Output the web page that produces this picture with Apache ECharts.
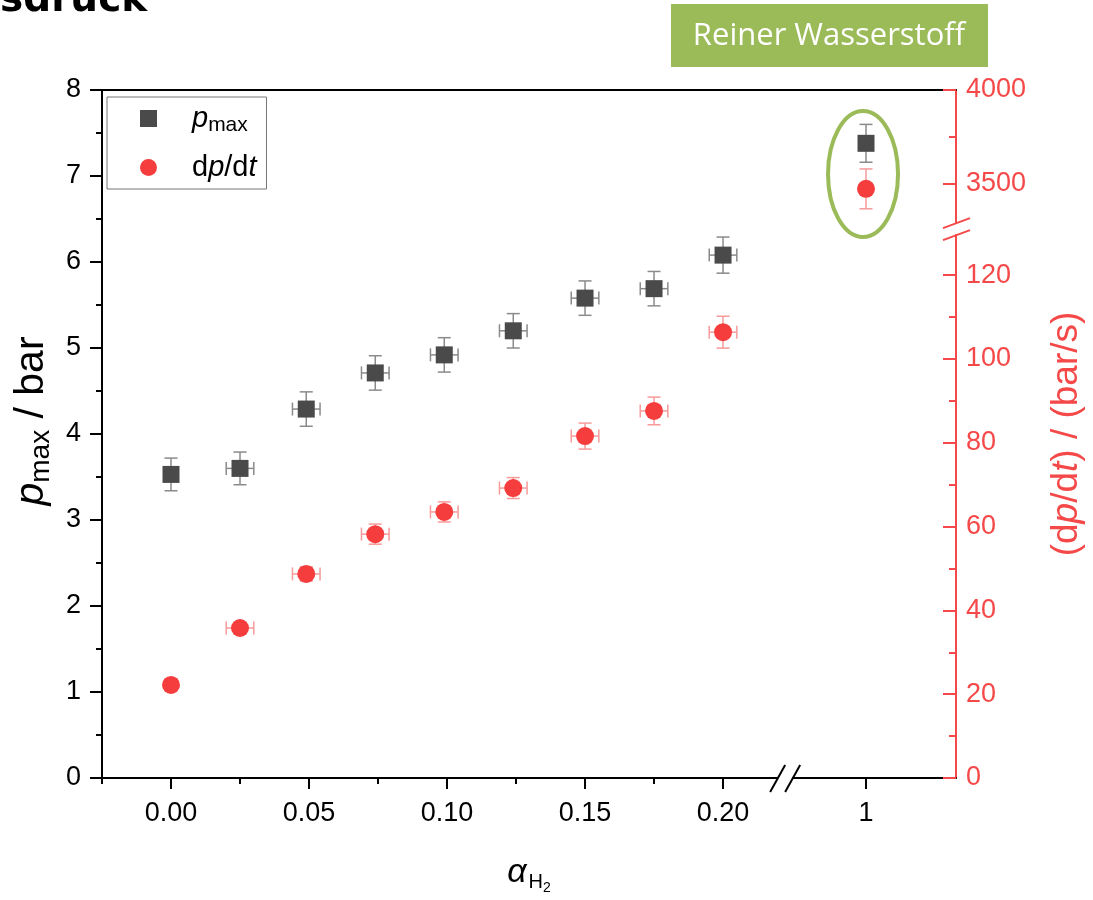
<!DOCTYPE html>
<html>
<head>
<meta charset="utf-8">
<title>pmax und dp/dt</title>
<script src="https://cdn.jsdelivr.net/npm/echarts@6/dist/echarts.min.js"></script>
<style>
    html, body { margin: 0; padding: 0; background: #fff; }
    #chart { width: 1093px; height: 900px; }
</style>
</head>
<body>
<div id="chart"></div>
<script>
// Messwerte (H2-Anteil, Druck, Druckanstieg)
var alpha     = [0, 0.025, 0.049, 0.074, 0.099, 0.124, 0.15, 0.175, 0.2, 1];
var alphaErr  = [0, 0.005, 0.005, 0.005, 0.005, 0.005, 0.005, 0.005, 0.005, 0];
var pMax      = [3.53, 3.60, 4.29, 4.71, 4.92, 5.20, 5.58, 5.69, 6.08, 7.38];
var pMaxErr   = [0.19, 0.19, 0.2, 0.2, 0.2, 0.2, 0.2, 0.2, 0.21, 0.22];
var dpdt      = [22.2, 35.8, 48.7, 58.2, 63.5, 69.2, 81.6, 87.6, 106.4, 3474];
var dpdtErr   = [0.8, 1.3, 1.7, 2.4, 2.4, 2.5, 3.1, 3.3, 3.8, 106];

// Achsen
var xTicks       = [0, 0.05, 0.1, 0.15, 0.2, 1];
var xTickLabels  = ['0.00', '0.05', '0.10', '0.15', '0.20', '1'];
var xMinorTicks  = [-0.025, 0.025, 0.075, 0.125, 0.175];
var rightTicks      = [0, 20, 40, 60, 80, 100, 120, 3500, 4000];
var rightMinorTicks = [10, 30, 50, 70, 90, 110, 3750];

var RED = '#f54848';
var GREEN = '#9bbb59';
var FONT = 'Liberation Sans, Arial, sans-serif';

// unterbrochene x-Achse: 0..0.2 linear, danach Sprung auf 1
var X_ONE = 0.2518;
function xPos(v) { return v <= 0.5 ? v : X_ONE + (v - 1); }
var X_MIN = -0.025, X_MAX = 0.2844, X_BREAK = 0.2225;

// unterbrochene rechte Achse: 0..131 linear, oben 3260..4000 gestaucht
var BRK = 131, UP_MIN = 3260, UP_K = 0.04486;
function yPos(v) { return v <= BRK ? v : BRK + (v - UP_MIN) * UP_K; }
function yVal(d) { return d <= BRK + 1e-6 ? d : UP_MIN + (d - BRK) / UP_K; }
var R_MAX = yPos(4000);

function errData(ys, yErr, yFn) {
    return alpha.map(function (a, i) {
        return [xPos(a), yFn(ys[i]), xPos(a - alphaErr[i]), xPos(a + alphaErr[i]),
            yFn(ys[i] - yErr[i]), yFn(ys[i] + yErr[i])];
    });
}

function errorItem(color) {
    return function (params, api) {
        var x = api.value(0), y = api.value(1);
        var c = api.coord([x, y]);
        var lo = api.coord([x, api.value(4)]);
        var hi = api.coord([x, api.value(5)]);
        var l = api.coord([api.value(2), y]);
        var r = api.coord([api.value(3), y]);
        var cap = 6.5;
        var st = {stroke: color, lineWidth: 1.5, fill: null};
        var ch = [];
        if (lo[1] - hi[1] > 1) {
            ch.push({type: 'line', shape: {x1: c[0], y1: lo[1], x2: c[0], y2: hi[1]}, style: st});
            ch.push({type: 'line', shape: {x1: c[0] - cap, y1: lo[1], x2: c[0] + cap, y2: lo[1]}, style: st});
            ch.push({type: 'line', shape: {x1: c[0] - cap, y1: hi[1], x2: c[0] + cap, y2: hi[1]}, style: st});
        }
        if (r[0] - l[0] > 1) {
            ch.push({type: 'line', shape: {x1: l[0], y1: c[1], x2: r[0], y2: c[1]}, style: st});
            ch.push({type: 'line', shape: {x1: l[0], y1: c[1] - cap, x2: l[0], y2: c[1] + cap}, style: st});
            ch.push({type: 'line', shape: {x1: r[0], y1: c[1] - cap, x2: r[0], y2: c[1] + cap}, style: st});
        }
        return {type: 'group', children: ch};
    };
}

var chart = echarts.init(document.getElementById('chart'));

var option = {
    animation: false,
    backgroundColor: '#fff',
    grid: {left: 102, right: 137, top: 90, bottom: 122, outerBoundsMode: 'none', containLabel: false},
    legend: {
        left: 107, top: 97,
        orient: 'vertical',
        padding: [7, 10, 7, 33],
        itemGap: 17,
        itemWidth: 17, itemHeight: 17,
        borderColor: '#777', borderWidth: 1,
        data: [{name: 'pmax', icon: 'rect'}, {name: 'dpdt', icon: 'circle'}],
        formatter: function (n) {
            return n === 'pmax' ? '{sp|}{i|p}{s|max}' : '{sp|}{n|d}{i|p}{n|/d}{i|t}';
        },
        textStyle: {
            color: '#000',
            rich: {
                sp: {width: 30, height: 30},
                i: {fontStyle: 'italic', fontSize: 29, fontFamily: FONT, color: '#000'},
                n: {fontSize: 29, fontFamily: FONT, color: '#000'},
                s: {fontSize: 21, fontFamily: FONT, color: '#000', padding: [14, 0, 0, 0]}
            }
        }
    },
    xAxis: [{
        type: 'value', min: X_MIN, max: X_MAX, position: 'bottom',
        name: '{a|α}{h|H}{t|2}', nameLocation: 'middle', nameGap: 73,
        nameTextStyle: {rich: {
            a: {fontStyle: 'italic', fontSize: 34, fontFamily: FONT, color: '#000'},
            h: {fontSize: 20, fontFamily: FONT, color: '#000', padding: [18, 0, 0, 2]},
            t: {fontSize: 14, fontFamily: FONT, color: '#000', padding: [30, 0, 0, 0]}
        }},
        axisLine: {show: true, onZero: false, lineStyle: {color: '#000', width: 2}},
        axisTick: {show: true, length: 11, lineStyle: {color: '#000', width: 2},
            customValues: xTicks.map(xPos)},
        axisLabel: {
            color: '#000', fontSize: 27, fontFamily: FONT, margin: 22,
            customValues: xTicks.map(xPos),
            formatter: function (v) {
                for (var i = 0; i < xTicks.length; i++) {
                    if (Math.abs(xPos(xTicks[i]) - v) < 1e-6) return xTickLabels[i];
                }
                return '';
            }
        },
        splitLine: {show: false}
    }, {
        type: 'value', min: X_MIN, max: X_MAX, position: 'top',
        axisLine: {show: true, onZero: false, lineStyle: {color: '#000', width: 2}},
        axisTick: {show: false}, axisLabel: {show: false}, splitLine: {show: false}
    }, {
        type: 'value', min: X_MIN, max: X_MAX, position: 'bottom',
        axisLine: {show: false, onZero: false},
        axisTick: {show: true, length: 6, lineStyle: {color: '#000', width: 2},
            customValues: xMinorTicks.map(xPos)},
        axisLabel: {show: false}, splitLine: {show: false}
    }],
    yAxis: [{
        type: 'value', min: 0, max: 8, interval: 1, position: 'left',
        name: '{i|p}{s|max}{n| / bar}', nameLocation: 'middle', nameGap: 44, nameRotate: 90,
        nameTextStyle: {color: '#000', padding: [0, 0, 0, 26], rich: {
            i: {fontStyle: 'italic', fontSize: 41, fontFamily: FONT, color: '#000'},
            n: {fontSize: 41, fontFamily: FONT, color: '#000'},
            s: {fontSize: 28, fontFamily: FONT, color: '#000', padding: [18, 0, 0, 0]}
        }},
        axisLine: {show: true, onZero: false, lineStyle: {color: '#000', width: 2}},
        axisTick: {show: true, length: 12, lineStyle: {color: '#000', width: 2}},
        minorTick: {show: true, splitNumber: 2, length: 6, lineStyle: {color: '#000', width: 2}},
        axisLabel: {color: '#000', fontSize: 27, fontFamily: FONT, margin: 21},
        splitLine: {show: false}
    }, {
        type: 'value', min: 0, max: R_MAX, position: 'right',
        name: '{n|(d}{i|p}{n|/d}{i|t}{n|) / (bar/s)}', nameLocation: 'middle', nameGap: 92, nameRotate: 90,
        nameTextStyle: {rich: {
            i: {fontStyle: 'italic', fontSize: 37, fontFamily: FONT, color: RED},
            n: {fontSize: 37, fontFamily: FONT, color: RED}
        }},
        axisLine: {show: true, onZero: false, lineStyle: {color: RED, width: 2}},
        axisTick: {show: true, inside: true, length: 13, lineStyle: {color: RED, width: 2},
            customValues: rightTicks.map(yPos)},
        axisLabel: {
            color: RED, fontSize: 27, fontFamily: FONT, margin: 10,
            customValues: rightTicks.map(yPos),
            formatter: function (v) { return String(Math.round(yVal(v))); }
        },
        splitLine: {show: false}
    }, {
        type: 'value', min: 0, max: R_MAX, position: 'right',
        axisLine: {show: false, onZero: false},
        axisTick: {show: true, inside: true, length: 7, lineStyle: {color: RED, width: 2},
            customValues: rightMinorTicks.map(yPos)},
        axisLabel: {show: false}, splitLine: {show: false}
    }],
    series: [{
        name: 'pmaxErr', type: 'custom', xAxisIndex: 0, yAxisIndex: 0, z: 2,
        renderItem: errorItem('#8a8a8a'),
        encode: {x: [0, 2, 3], y: [1, 4, 5]},
        data: errData(pMax, pMaxErr, function (v) { return v; })
    }, {
        name: 'dpdtErr', type: 'custom', xAxisIndex: 0, yAxisIndex: 1, z: 2,
        renderItem: errorItem('#f79a9a'),
        encode: {x: [0, 2, 3], y: [1, 4, 5]},
        data: errData(dpdt, dpdtErr, yPos)
    }, {
        name: 'pmax', type: 'scatter', xAxisIndex: 0, yAxisIndex: 0, z: 3,
        symbol: 'rect', symbolSize: 17,
        itemStyle: {color: '#4a4a4a', opacity: 1},
        data: alpha.map(function (a, i) { return [xPos(a), pMax[i]]; })
    }, {
        name: 'dpdt', type: 'scatter', xAxisIndex: 0, yAxisIndex: 1, z: 3,
        symbol: 'circle', symbolSize: 18,
        itemStyle: {color: '#f53d3d', opacity: 1},
        data: alpha.map(function (a, i) { return [xPos(a), yPos(dpdt[i])]; })
    }]
};

chart.setOption(option);

// Achsenbrüche, Ellipse und Beschriftungen oben
var bx = chart.convertToPixel({xAxisIndex: 0}, X_BREAK);
var by = chart.convertToPixel({yAxisIndex: 0}, 0);
var rx = chart.convertToPixel({xAxisIndex: 0}, X_MAX);
var ry = chart.convertToPixel({yAxisIndex: 1}, BRK);
var ex = chart.convertToPixel({xAxisIndex: 0}, xPos(1));

chart.setOption({
    graphic: [
        {type: 'rect', shape: {x: bx - 7, y: by - 3, width: 14, height: 6}, style: {fill: '#fff'}, z: 100},
        {type: 'line', shape: {x1: bx - 15, y1: by + 14, x2: bx, y2: by - 13}, style: {stroke: '#000', lineWidth: 2}, z: 101},
        {type: 'line', shape: {x1: bx, y1: by + 14, x2: bx + 15, y2: by - 13}, style: {stroke: '#000', lineWidth: 2}, z: 101},
        {type: 'rect', shape: {x: rx - 3, y: ry - 6, width: 6, height: 11}, style: {fill: '#fff'}, z: 100},
        {type: 'line', shape: {x1: rx - 13, y1: ry - 1, x2: rx + 14, y2: ry - 11}, style: {stroke: RED, lineWidth: 2}, z: 101},
        {type: 'line', shape: {x1: rx - 13, y1: ry + 11, x2: rx + 14, y2: ry + 1}, style: {stroke: RED, lineWidth: 2}, z: 101},
        {type: 'ellipse', shape: {cx: ex - 3, cy: 174, rx: 35, ry: 63}, style: {fill: null, stroke: GREEN, lineWidth: 4}, z: 100},
        {type: 'rect', shape: {x: 671, y: 4, width: 317, height: 63}, style: {fill: GREEN}, z: 100},
        {type: 'text', x: 829, y: 36, z: 101,
            style: {text: 'Reiner Wasserstoff', fill: '#fff', font: '31px "Open Sans", sans-serif',
                textAlign: 'center', textVerticalAlign: 'middle'}},
        {type: 'text', x: 0, y: 20, z: 101,
            style: {text: 'sdruck', fill: '#000', font: 'bold 39px "DejaVu Sans", sans-serif',
                textAlign: 'left', textVerticalAlign: 'bottom'}}
    ]
});
</script>
</body>
</html>
